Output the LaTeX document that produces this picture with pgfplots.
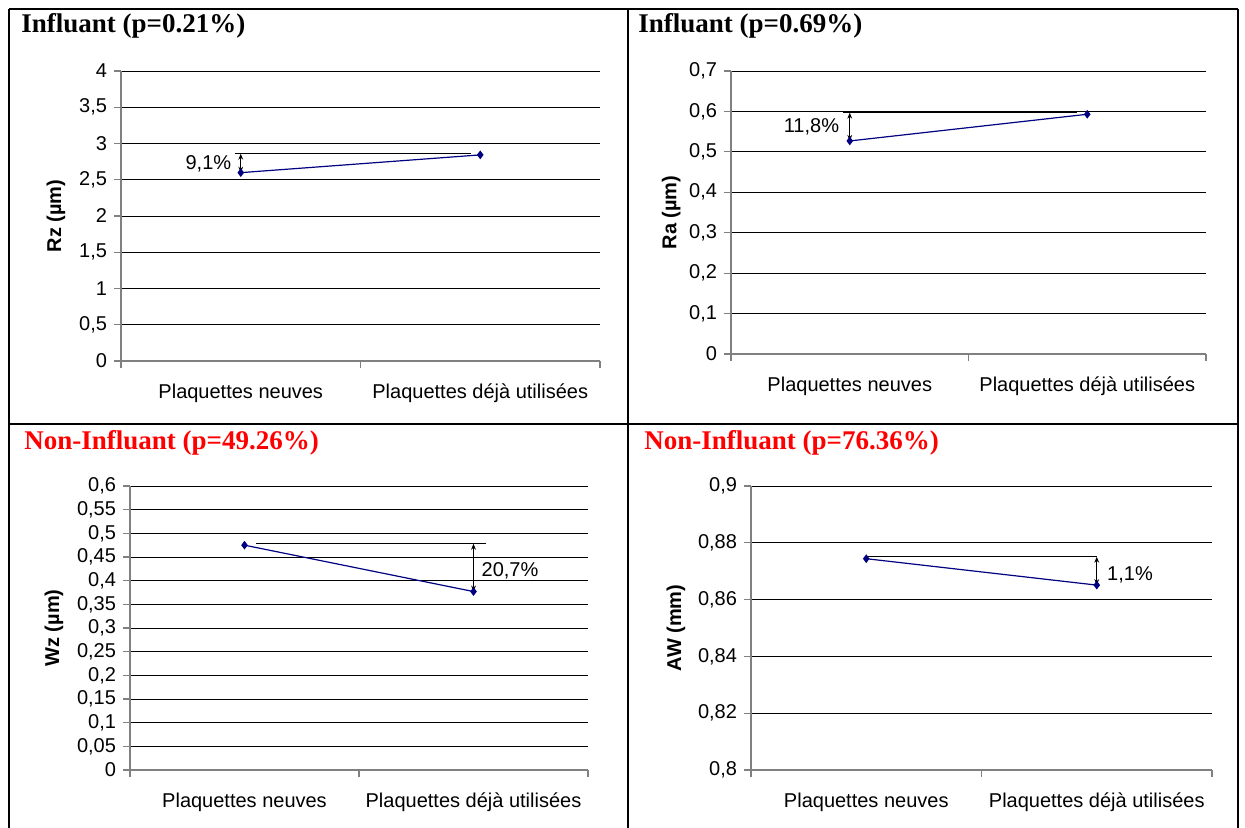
\documentclass[border=0pt]{standalone}
\usepackage{fontspec}
\setmainfont{Liberation Sans}
\newfontfamily\titlefont{Liberation Serif}
\usepackage{pgfplots}
\pgfplotsset{compat=1.18}
\usetikzlibrary{arrows.meta}
\definecolor{navy}{RGB}{0,0,128}
\definecolor{titlered}{RGB}{255,0,0}
\newcommand{\lblfont}{\fontsize{10}{12}\selectfont}
\tikzset{
  ann/.style={black, line width=0.5pt},
  dbl/.style={black, line width=0.5pt, {Stealth[length=3pt,width=2.4pt]}-{Stealth[length=3pt,width=2.4pt]}},
}
\pgfplotsset{
  panel/.style={
    scale only axis, anchor=south west, clip=false,
    axis lines=left, axis line style={-, draw=gray, line width=0.6pt},
    xmin=0, xmax=2, xtick={0,1,2}, xticklabels={,,},
    extra x ticks={0.5,1.5},
    extra x tick labels={Plaquettes neuves, Plaquettes déjà utilisées},
    extra x tick style={major tick length=0pt, grid=none, tick label style={yshift=-8pt}},
    tick align=outside, major tick length=3.5pt, tick style={gray, line width=0.6pt},
    ymajorgrids, grid style={black, line width=0.5pt},
    scaled y ticks=false,
    yticklabel style={/pgf/number format/fixed, /pgf/number format/precision=2,
      /pgf/number format/use comma, /pgf/number format/assume math mode=true},
    tick label style={font=\lblfont},
    every axis y label/.style={rotate=90, anchor=center, font=\lblfont\bfseries},
  },
  serie/.style={navy, line width=0.6pt, mark=diamond*, mark size=1.7pt, mark options={fill=navy, draw=navy}},
}
\begin{document}
\begin{tikzpicture}
\path[use as bounding box] (0,0) rectangle (622.5pt,-414pt);
% frame
\draw[line width=1.2pt] (4.5pt,-4.5pt) -- (619pt,-4.5pt);
\draw[line width=1.2pt] (4.5pt,-4.5pt) -- (4.5pt,-414pt);
\draw[line width=1.2pt] (619pt,-4.5pt) -- (619pt,-414pt);
\draw[line width=1.2pt] (314pt,-4.5pt) -- (314pt,-414pt);
\draw[line width=1.2pt] (4.5pt,-212pt) -- (619pt,-212pt);
% titles
\node[anchor=base west, inner sep=0pt, font=\titlefont\bfseries\fontsize{13.5}{15}\selectfont] at (10.5pt,-16.5pt) {Influant (p=0.21\%)};
\node[anchor=base west, inner sep=0pt, font=\titlefont\bfseries\fontsize{13.5}{15}\selectfont] at (319pt,-16.5pt) {Influant (p=0.69\%)};
\node[anchor=base west, inner sep=0pt, text=titlered, font=\titlefont\bfseries\fontsize{13.5}{15}\selectfont] at (12pt,-224.5pt) {Non-Influant (p=49.26\%)};
\node[anchor=base west, inner sep=0pt, text=titlered, font=\titlefont\bfseries\fontsize{13.5}{15}\selectfont] at (322pt,-224.5pt) {Non-Influant (p=76.36\%)};

% Panel 1
\begin{axis}[panel, at={(60.5pt,-180.5pt)}, width=239.5pt, height=145pt,
  ymin=0, ymax=4, ytick={0,0.5,1,1.5,2,2.5,3,3.5,4},
  ylabel={Rz (µm)}, every axis y label/.append style={at={(axis description cs:-0.136,0.5)}}]
\addplot[serie] coordinates {(0.5,2.598) (1.5,2.843)};
\draw[ann] (axis cs:0.475,2.86) -- (axis cs:1.46,2.86);
\draw[dbl] (axis cs:0.5,2.86) -- (axis cs:0.5,2.598);
\node[anchor=east, inner sep=1pt, font=\lblfont] at (axis cs:0.47,2.72) {9,1\%};
\end{axis}

% Panel 2
\begin{axis}[panel, at={(365.5pt,-177pt)}, width=237.5pt, height=141.5pt,
  ymin=0, ymax=0.7, ytick={0,0.1,0.2,0.3,0.4,0.5,0.6,0.7},
  ylabel={Ra (µm)}, every axis y label/.append style={at={(axis description cs:-0.126,0.5)}}]
\addplot[serie] coordinates {(0.5,0.527) (1.5,0.593)};
\draw[ann] (axis cs:0.472,0.597) -- (axis cs:1.458,0.597);
\draw[dbl] (axis cs:0.5,0.597) -- (axis cs:0.5,0.527);
\node[anchor=east, inner sep=1pt, font=\lblfont] at (axis cs:0.465,0.563) {11,8\%};
\end{axis}

% Panel 3
\begin{axis}[panel, at={(65pt,-385pt)}, width=229pt, height=142pt,
  ymin=0, ymax=0.6, ytick={0,0.05,0.1,0.15,0.2,0.25,0.3,0.35,0.4,0.45,0.5,0.55,0.6},
  ylabel={Wz (µm)}, every axis y label/.append style={at={(axis description cs:-0.166,0.5)}}]
\addplot[serie] coordinates {(0.5,0.475) (1.5,0.377)};
\draw[ann] (axis cs:0.552,0.478) -- (axis cs:1.553,0.478);
\draw[dbl] (axis cs:1.5,0.478) -- (axis cs:1.5,0.377);
\node[anchor=west, inner sep=1pt, font=\lblfont] at (axis cs:1.525,0.42) {20,7\%};
\end{axis}

% Panel 4
\begin{axis}[panel, at={(375.5pt,-385pt)}, width=230.5pt, height=142pt,
  ymin=0.8, ymax=0.9, ytick={0.8,0.82,0.84,0.86,0.88,0.9},
  ylabel={AW (mm)}, every axis y label/.append style={at={(axis description cs:-0.163,0.5)}}]
\addplot[serie] coordinates {(0.5,0.8744) (1.5,0.8651)};
\draw[ann] (axis cs:0.5,0.8751) -- (axis cs:1.5,0.8751);
\draw[dbl] (axis cs:1.5,0.8751) -- (axis cs:1.5,0.8651);
\node[anchor=west, inner sep=1pt, font=\lblfont] at (axis cs:1.535,0.8687) {1,1\%};
\end{axis}
\end{tikzpicture}
\end{document}
